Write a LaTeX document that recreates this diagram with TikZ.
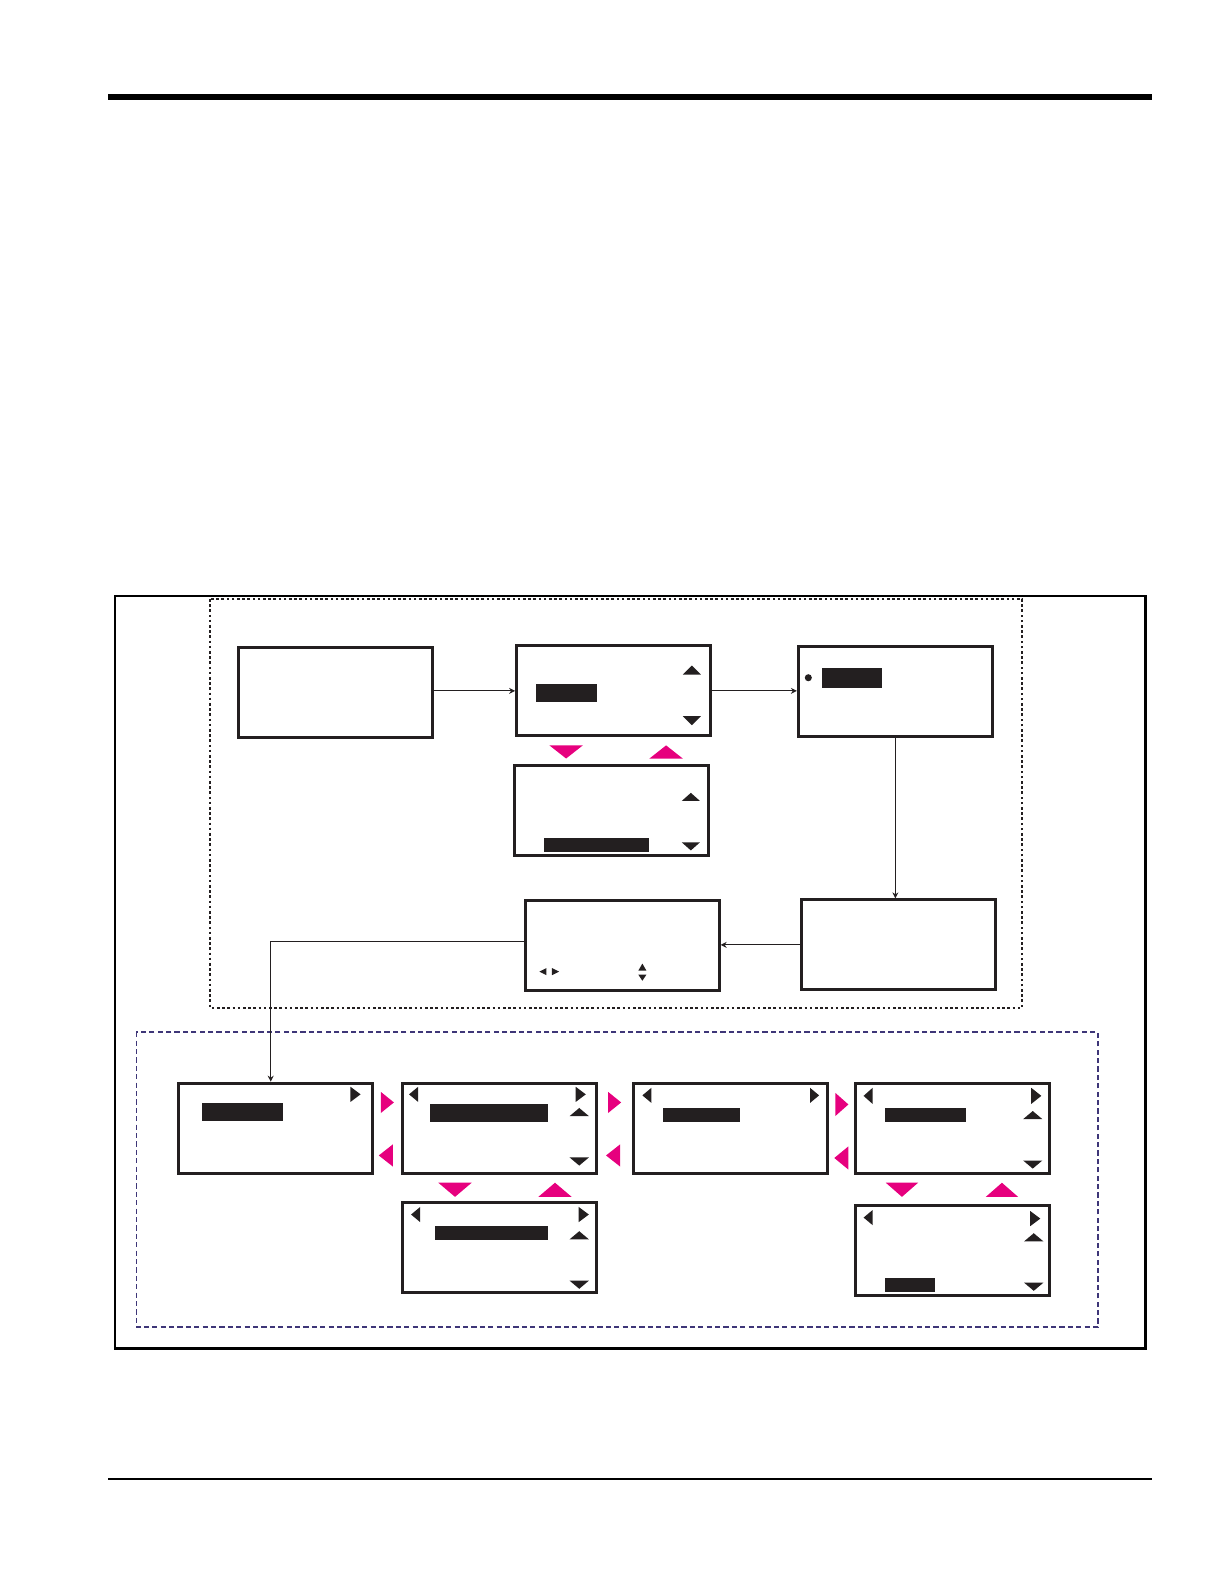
\documentclass[tikz,border=0pt]{standalone}
\usetikzlibrary{arrows.meta,calc}
\definecolor{ink}{RGB}{35,31,32}
\definecolor{mag}{RGB}{230,0,126}
\definecolor{purp}{RGB}{62,54,120}
\newcommand\tUp[5][ink]{\fill[#1] (#2,#3) -- ++(-#4,#5) -- ++(2*#4,0) -- cycle;}
\newcommand\tDn[5][ink]{\fill[#1] (#2,#3) -- ++(-#4,-#5) -- ++(2*#4,0) -- cycle;}
\newcommand\tRt[5][ink]{\fill[#1] (#2,#3) -- ++(-#5,-#4) -- ++(0,2*#4) -- cycle;}
\newcommand\tLt[5][ink]{\fill[#1] (#2,#3) -- ++(#5,-#4) -- ++(0,2*#4) -- cycle;}
\begin{document}
\begin{tikzpicture}[x=0.505pt,y=-0.505pt,
  screen/.style={draw=ink,line width=1.5pt,minimum width=97pt,minimum height=45pt,inner sep=0pt,fill=white},
  conn/.style={draw=ink,line width=0.5pt,-{Stealth[length=3pt,width=3pt]}},
  bar/.style={fill=ink}]
\useasboundingbox (0,0) rectangle (1211.9,1568.3);
% page rules
\fill[black] (107,93) rectangle (1141,99);
\draw[black,line width=1pt] (107,1464) -- (1141,1464);
% frames
\draw[black,line width=1.2pt] (114,590) rectangle (1134,1335);
\draw[ink,line width=1pt,dash pattern=on 1.3pt off 1.3pt] (208,593) rectangle (1012,998);
\draw[purp,line width=0.8pt,dash pattern=on 2.6pt off 1.6pt] (135,1022) rectangle (1087,1314);
% screens
\node[screen] (A) at (332.3,685.7) {};
\node[screen] (B) at (607.5,684) {};
\node[screen] (C) at (605.5,802.5) {};
\node[screen] (D) at (886.5,685) {};
\node[screen] (E) at (889.5,935.5) {};
\node[screen] (F) at (616,936) {};
\node[screen] (G1) at (273,1117) {};
\node[screen] (G2) at (494.5,1117) {};
\node[screen] (G3) at (494.5,1235.5) {};
\node[screen] (H3) at (723,1117) {};
\node[screen] (H4) at (943,1117) {};
\node[screen] (H5) at (943,1238) {};
% connectors
\draw[conn] (A.east |- B.west) -- (B.west);
\draw[conn] (B.east) -- (B.east -| D.west);
\draw[conn] (D.south) -- (D.south |- E.north);
\draw[conn] (E.west) -- (E.west -| F.east);
\draw[conn] ($(F.west)+(0,-4)$) -| ([xshift=-2.5pt]G1.north);
% highlight bars
\fill[ink] (531,677) rectangle (591,695);
\fill[ink] (539,830) rectangle (643,844);
\fill[ink] (814,661.5) rectangle (873,681);
\fill[ink] (800.3,671) circle (3.5);
\fill[ink] (200,1092) rectangle (280,1110);
\fill[ink] (426,1093) rectangle (543,1111);
\fill[ink] (431,1214) rectangle (543,1228);
\fill[ink] (656,1097) rectangle (733,1111);
\fill[ink] (876,1097) rectangle (956,1111);
\fill[ink] (876,1265) rectangle (926,1279);
% scroll indicators B, C
\tUp{685}{659}{9}{9}
\tDn{685}{718}{9}{9}
\tUp{684}{785}{9}{8}
\tDn{684}{842}{9}{8}
% F small indicators
\tLt{534}{962}{3.5}{7}
\tRt{553.5}{962}{3.5}{7}
\tUp{636}{954}{4}{7}
\tDn{636}{971}{4}{6}
% G1
\tRt{357}{1083.5}{7.5}{10}
% G2
\tLt{405}{1083.5}{7.5}{9}
\tRt{580}{1083.5}{7.5}{10}
\tUp{573.5}{1097}{9.5}{8}
\tDn{573.5}{1154}{9.5}{8}
% G3
\tLt{407}{1202.5}{7.5}{9}
\tRt{583}{1202.5}{7.5}{10}
\tUp{573.5}{1219}{9.5}{8}
\tDn{573.5}{1276}{9.5}{8}
% H3
\tLt{636}{1084.5}{7.5}{9}
\tRt{811}{1084.5}{7.5}{9}
% H4
\tLt{855}{1085}{8}{9}
\tRt{1031}{1085}{8}{10}
\tUp{1022.5}{1100}{9.5}{8}
\tDn{1022.5}{1157}{9.5}{8}
% H5
\tLt{855}{1205.5}{7.5}{9}
\tRt{1030}{1206.5}{7.5}{10}
\tUp{1023.5}{1221}{9.5}{8}
\tDn{1023.5}{1278}{9.5}{8}
% magenta navigation arrows
\tDn[mag]{560.5}{751}{16.5}{13}
\tUp[mag]{659.5}{738}{16.5}{13}
\tRt[mag]{390}{1091.5}{10.5}{13}
\tLt[mag]{375}{1144}{11}{14}
\tDn[mag]{450.5}{1185}{16.5}{14}
\tUp[mag]{549.5}{1171}{16.5}{14}
\tRt[mag]{615}{1091.5}{10.5}{13}
\tLt[mag]{600}{1144}{11}{14}
\tRt[mag]{840}{1093.5}{11.5}{13}
\tLt[mag]{826}{1146.5}{11.5}{14}
\tDn[mag]{893}{1185}{16}{14}
\tUp[mag]{992}{1171}{16}{14}
\end{tikzpicture}
\end{document}
